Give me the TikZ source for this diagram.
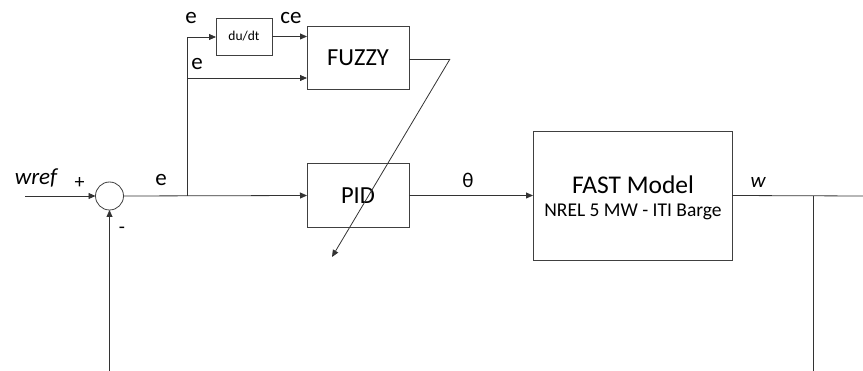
\documentclass[tikz,border=0pt]{standalone}
\usepackage{fontspec}
\setmainfont{Carlito}
\usetikzlibrary{arrows.meta}
\begin{document}
\begin{tikzpicture}[x=1pt,y=-1pt,
  line width=0.8pt, draw=black!80,
  blk/.style={draw=black!75, rectangle, inner sep=0pt, outer sep=0pt, align=center},
  sumc/.style={draw=black!75, circle, minimum size=28pt, inner sep=0pt, outer sep=0pt},
  arr/.style={-{Triangle[length=7pt,width=6pt]}},
  lbl/.style={inner sep=0pt, font=\fontsize{23}{26}\selectfont}]
\useasboundingbox (0,0) rectangle (863,371);
% blocks
\node[sumc] (sum) at (109.5,196) {};
\node[blk, minimum width=56pt, minimum height=37pt, font=\fontsize{13.5}{16}\selectfont] (diff) at (244,36.5) {du/dt};
\node[blk, minimum width=102pt, minimum height=63pt, font=\fontsize{24.5}{28}\selectfont] (fuzzy) at (358,57.5) {FUZZY};
\node[blk, minimum width=102pt, minimum height=64pt, font=\fontsize{24.5}{28}\selectfont] (pid) at (358,195.5) {PID};
\node[blk, minimum width=199pt, minimum height=129pt] (fast) at (632.5,195.5) {};
\node[inner sep=0pt, font=\fontsize{25.5}{28}\selectfont] (fastt) at (633,185) {FAST Model};
\node[inner sep=0pt, font=\fontsize{19.5}{22}\selectfont] (fasts) at (633,211.5) {NREL 5 MW - ITI Barge};
% coordinates
\coordinate (in) at (25,196);
\coordinate (br) at (187,196);
\coordinate (top) at (187,37);
\coordinate (mid) at (187,78);
\coordinate (fzc) at (450,59);
\coordinate (tip) at (332,257);
\coordinate (obr) at (813,196);
\coordinate (oend) at (863,196);
\coordinate (obot) at (813,371);
\coordinate (fbot) at (109.5,371);
% connectors
\draw[arr] (in) -- (sum.west);
\draw[arr] (sum.east) -- (pid.west);
\draw (br) -- (top);
\draw[arr] (top) -- (diff.west |- top);
\draw[arr] (diff.east) -- (diff.east -| fuzzy.west);
\draw[arr] (mid) -- (mid -| fuzzy.west);
\draw (fuzzy.east |- fzc) -- (fzc);
\draw[arr] (fzc) -- (tip);
\draw[arr] (pid.east) -- (fast.west);
\draw (fast.east) -- (oend);
\draw (obr) -- (obot);
\draw[arr] (fbot) -- (sum.south);
% labels
\node[lbl, font=\fontsize{23}{26}\itshape] (wref) at (36,178) {wref};
\node[lbl, font=\fontsize{20}{22}\selectfont] (plus) at (79.5,183) {+};
\node[lbl, font=\fontsize{20}{22}\selectfont] (minus) at (122,230) {-};
\node[lbl] (e1) at (161,180) {e};
\node[lbl] (e2) at (191,18) {e};
\node[lbl] (ce) at (291,18) {ce};
\node[lbl] (e3) at (197,64) {e};
\node[lbl, font=\fontsize{21}{24}\selectfont] (theta) at (468,180) {θ};
\node[lbl, font=\fontsize{21}{24}\itshape] (w) at (758,182) {w};
\end{tikzpicture}
\end{document}
